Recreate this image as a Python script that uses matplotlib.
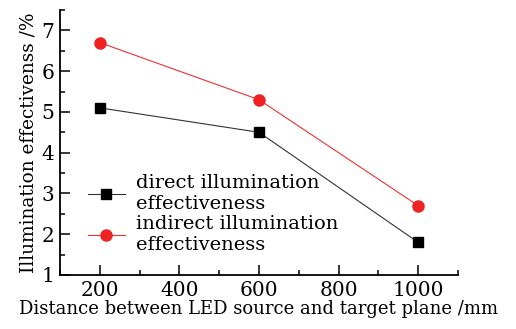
import matplotlib
matplotlib.use("Agg")
from matplotlib import pyplot as plt
from matplotlib.ticker import MultipleLocator

distance = [200, 600, 1000]
direct_eff = [5.1, 4.5, 1.8]
indirect_eff = [6.7, 5.3, 2.7]

plt.rcParams['font.family'] = ['DejaVu Serif']
plt.rcParams['mathtext.fontset'] = 'dejavuserif'

fig = plt.figure(figsize=(5.16, 3.29), dpi=100)
ax = fig.add_axes([60 / 516, 1 - 275 / 329, 398 / 516, 265 / 329])

ax.plot(distance, direct_eff, color='#333333', lw=0.8, marker='s', ms=6.5,
        mfc='black', mec='black', label='direct illumination\neffectiveness')
ax.plot(distance, indirect_eff, color='#f03030', lw=0.8, marker='o', ms=8,
        mfc='#ee2222', mec='#ee2222', label='indirect illumination\neffectiveness')

ax.set_xlim(100, 1100)
ax.set_ylim(1, 7.5)
ax.xaxis.set_major_locator(MultipleLocator(200))
ax.xaxis.set_minor_locator(MultipleLocator(100))
ax.yaxis.set_major_locator(MultipleLocator(1))
ax.yaxis.set_minor_locator(MultipleLocator(0.5))

for side in ['top', 'right']:
    ax.spines[side].set_visible(False)
for side in ['left', 'bottom']:
    ax.spines[side].set_linewidth(1.3)

ax.tick_params(which='both', direction='in', width=1.1, labelsize=14.5)
ax.tick_params(which='major', length=7, pad=4)
ax.tick_params(which='minor', length=3.5)

ax.set_xlabel('Distance between LED source and target plane /mm', fontsize=13, labelpad=0)
ax.set_ylabel('Illumination effectivenss /%', fontsize=13.3, labelpad=3)

ax.legend(loc='lower left', bbox_to_anchor=(0.05, 0.05), frameon=False,
          fontsize=14, handlelength=1.9, handletextpad=0.6,
          labelspacing=0.1, borderaxespad=0)

fig.savefig('out.png', dpi=100)
